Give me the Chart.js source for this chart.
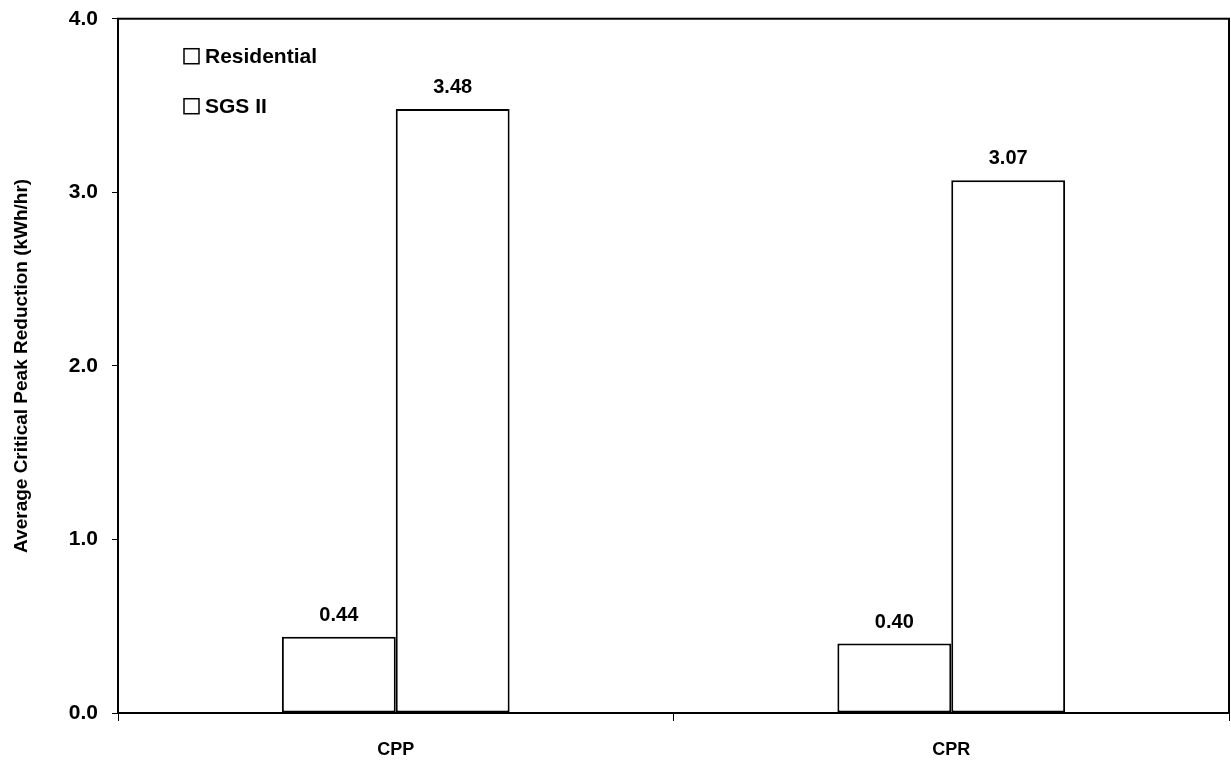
<!DOCTYPE html>
<html>
<head>
<meta charset="utf-8">
<script src="https://cdn.jsdelivr.net/npm/chart.js@4.4.0/dist/chart.umd.min.js"></script>
<style>
  html, body { margin: 0; padding: 0; background: #fff; }
  #wrap { width: 1231px; height: 762px; }
</style>
</head>
<body>
<div id="wrap"><canvas id="myChart" width="1231" height="762"></canvas></div>
<script>
const categories = ["CPP", "CPR"];
const residential = [0.44, 0.40];
const sgsII = [3.48, 3.07];
const yTicks = [0, 1, 2, 3, 4];

const fontFamily = "'Liberation Sans', Arial, sans-serif";

const plugin = {
  id: "frameLabelsLegend",
  afterDatasetsDraw: (chart) => {
    const { ctx, chartArea } = chart;
    ctx.save();
    // frame around the plot
    ctx.strokeStyle = "#000";
    ctx.lineWidth = 2;
    ctx.strokeRect(chartArea.left, chartArea.top, chartArea.right - chartArea.left, chartArea.bottom - chartArea.top);

    // value labels above bars
    ctx.fillStyle = "#000";
    ctx.font = "bold 20px " + fontFamily;
    ctx.textAlign = "center";
    ctx.textBaseline = "alphabetic";
    chart.data.datasets.forEach((ds, i) => {
      chart.getDatasetMeta(i).data.forEach((bar, j) => {
        ctx.fillText(ds.data[j].toFixed(2), bar.x, bar.y - 16);
      });
    });

    // legend inside plot, top left
    ctx.font = "bold 21px " + fontFamily;
    ctx.textAlign = "left";
    ctx.textBaseline = "middle";
    chart.data.datasets.forEach((ds, i) => {
      const y = chartArea.top + 37 + i * 50;
      const x = chartArea.left + 66;
      ctx.lineWidth = 1.5;
      ctx.fillStyle = "#fff";
      ctx.fillRect(x, y - 7, 15, 15);
      ctx.strokeRect(x, y - 7, 15, 15);
      ctx.fillStyle = "#000";
      ctx.fillText(ds.label, x + 21, y + 1);
    });
    ctx.restore();
  },
};

new Chart(document.getElementById("myChart"), {
  type: "bar",
  data: {
    labels: categories,
    datasets: [
      {
        label: "Residential",
        data: residential,
        backgroundColor: "#fff",
        borderColor: "#000",
        borderWidth: 2,
        borderSkipped: false,
        barPercentage: 1,
        categoryPercentage: 0.41,
      },
      {
        label: "SGS II",
        data: sgsII,
        backgroundColor: "#fff",
        borderColor: "#000",
        borderWidth: 2,
        borderSkipped: false,
        barPercentage: 1,
        categoryPercentage: 0.41,
      },
    ],
  },
  options: {
    responsive: false,
    animation: false,
    layout: { padding: { top: 0, right: 2, left: 0, bottom: 0 } },
    plugins: {
      legend: { display: false },
      tooltip: { enabled: false },
    },
    scales: {
      x: {
        border: { color: "#000", width: 2 },
        grid: { offset: true, drawOnChartArea: false, drawTicks: true, tickLength: 8, color: "#000" },
        ticks: { color: "#000", font: { family: fontFamily, size: 18, weight: "bold" }, padding: 18 },
        afterFit: (scale) => { scale.height = 49; },
      },
      y: {
        min: 0,
        max: 4,
        afterBuildTicks: (scale) => { scale.ticks = yTicks.map((v) => ({ value: v })); },
        border: { color: "#000", width: 2 },
        grid: { drawOnChartArea: false, drawTicks: true, tickLength: 6, color: "#000" },
        ticks: {
          color: "#000",
          font: { family: fontFamily, size: 21, weight: "bold", lineHeight: 0.45 },
          padding: 14,
          callback: (v) => Number(v).toFixed(1),
        },
        title: {
          display: true,
          text: "Average Critical Peak Reduction (kWh/hr)",
          color: "#000",
          font: { family: fontFamily, size: 19, weight: "bold" },
          padding: { top: 10, bottom: 0 },
        },
        afterFit: (scale) => { scale.width = 118; },
      },
    },
  },
  plugins: [plugin],
});
</script>
</body>
</html>
